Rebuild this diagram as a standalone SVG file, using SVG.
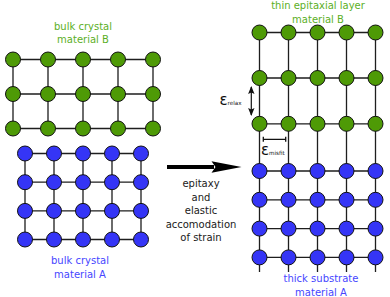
<svg xmlns="http://www.w3.org/2000/svg" width="390" height="297" viewBox="0 0 390 297">
<style>
.ln{stroke:#1e1e1e;stroke-width:1.3;fill:none}
.g{fill:#4e9a06;stroke:#111;stroke-width:1}
.b{fill:#3535f6;stroke:#111;stroke-width:1}
text{font-family:"DejaVu Sans","Liberation Sans",sans-serif;font-size:10px;text-anchor:middle}
.tg{fill:#5caf1f}
.tb{fill:#4646ff}
.tk{fill:#1a1a1a}
.eps{font-size:15px;text-anchor:start;fill:#111}
.sub{font-size:5.6px;text-anchor:start;fill:#111}
</style>
<defs>
<marker id="sm" viewBox="0 0 8 8" refX="7" refY="4" markerWidth="8" markerHeight="8" markerUnits="userSpaceOnUse" orient="auto-start-reverse">
<path d="M0,0.8 L8,4 L0,7.2 L1.5,4 Z" fill="#111"/>
</marker>
</defs>

<!-- bulk crystal B -->
<g id="bulkB">
<path class="ln" d="M13,59.5H153M13,94H153M13,128.5H153M13,59.5V128.5M48,59.5V128.5M83,59.5V128.5M118,59.5V128.5M153,59.5V128.5"/>
<g>
<circle class="g" cx="13" cy="59.5" r="7.5"/><circle class="g" cx="48" cy="59.5" r="7.5"/><circle class="g" cx="83" cy="59.5" r="7.5"/><circle class="g" cx="118" cy="59.5" r="7.5"/><circle class="g" cx="153" cy="59.5" r="7.5"/>
<circle class="g" cx="13" cy="94" r="7.5"/><circle class="g" cx="48" cy="94" r="7.5"/><circle class="g" cx="83" cy="94" r="7.5"/><circle class="g" cx="118" cy="94" r="7.5"/><circle class="g" cx="153" cy="94" r="7.5"/>
<circle class="g" cx="13" cy="128.5" r="7.5"/><circle class="g" cx="48" cy="128.5" r="7.5"/><circle class="g" cx="83" cy="128.5" r="7.5"/><circle class="g" cx="118" cy="128.5" r="7.5"/><circle class="g" cx="153" cy="128.5" r="7.5"/>
</g>
<text class="tg" x="83" y="29.5">bulk crystal</text>
<text class="tg" x="83" y="43.2">material B</text>
</g>

<!-- bulk crystal A -->
<g id="bulkA">
<path class="ln" d="M25,153.5H141M25,182.2H141M25,210.9H141M25,239.5H141M25,153.5V239.5M54,153.5V239.5M83,153.5V239.5M112,153.5V239.5M141,153.5V239.5"/>
<g>
<circle class="b" cx="25" cy="153.5" r="7.5"/><circle class="b" cx="54" cy="153.5" r="7.5"/><circle class="b" cx="83" cy="153.5" r="7.5"/><circle class="b" cx="112" cy="153.5" r="7.5"/><circle class="b" cx="141" cy="153.5" r="7.5"/>
<circle class="b" cx="25" cy="182.2" r="7.5"/><circle class="b" cx="54" cy="182.2" r="7.5"/><circle class="b" cx="83" cy="182.2" r="7.5"/><circle class="b" cx="112" cy="182.2" r="7.5"/><circle class="b" cx="141" cy="182.2" r="7.5"/>
<circle class="b" cx="25" cy="210.9" r="7.5"/><circle class="b" cx="54" cy="210.9" r="7.5"/><circle class="b" cx="83" cy="210.9" r="7.5"/><circle class="b" cx="112" cy="210.9" r="7.5"/><circle class="b" cx="141" cy="210.9" r="7.5"/>
<circle class="b" cx="25" cy="239.5" r="7.5"/><circle class="b" cx="54" cy="239.5" r="7.5"/><circle class="b" cx="83" cy="239.5" r="7.5"/><circle class="b" cx="112" cy="239.5" r="7.5"/><circle class="b" cx="141" cy="239.5" r="7.5"/>
</g>
<text class="tb" x="80" y="264">bulk crystal</text>
<text class="tb" x="80" y="277.5">material A</text>
</g>

<!-- epitaxial structure -->
<g id="layerB">
<path class="ln" d="M259.5,32.5H375.5M259.5,78H375.5M259.5,123.8H375.5M259.5,32.5V272M288.5,32.5V272M317.5,32.5V272M346.5,32.5V272M375.5,32.5V272"/>
<g>
<circle class="g" cx="259.5" cy="32.5" r="7.5"/><circle class="g" cx="288.5" cy="32.5" r="7.5"/><circle class="g" cx="317.5" cy="32.5" r="7.5"/><circle class="g" cx="346.5" cy="32.5" r="7.5"/><circle class="g" cx="375.5" cy="32.5" r="7.5"/>
<circle class="g" cx="259.5" cy="78" r="7.5"/><circle class="g" cx="288.5" cy="78" r="7.5"/><circle class="g" cx="317.5" cy="78" r="7.5"/><circle class="g" cx="346.5" cy="78" r="7.5"/><circle class="g" cx="375.5" cy="78" r="7.5"/>
<circle class="g" cx="259.5" cy="123.8" r="7.5"/><circle class="g" cx="288.5" cy="123.8" r="7.5"/><circle class="g" cx="317.5" cy="123.8" r="7.5"/><circle class="g" cx="346.5" cy="123.8" r="7.5"/><circle class="g" cx="375.5" cy="123.8" r="7.5"/>
</g>
<text class="tg" x="318" y="9">thin epitaxial layer</text>
<text class="tg" x="318" y="22.5">material B</text>
</g>

<g id="substrateA">
<path class="ln" d="M259.5,171H375.5M259.5,199.8H375.5M259.5,228.6H375.5M259.5,257.4H375.5"/>
<g>
<circle class="b" cx="259.5" cy="171" r="7.5"/><circle class="b" cx="288.5" cy="171" r="7.5"/><circle class="b" cx="317.5" cy="171" r="7.5"/><circle class="b" cx="346.5" cy="171" r="7.5"/><circle class="b" cx="375.5" cy="171" r="7.5"/>
<circle class="b" cx="259.5" cy="199.8" r="7.5"/><circle class="b" cx="288.5" cy="199.8" r="7.5"/><circle class="b" cx="317.5" cy="199.8" r="7.5"/><circle class="b" cx="346.5" cy="199.8" r="7.5"/><circle class="b" cx="375.5" cy="199.8" r="7.5"/>
<circle class="b" cx="259.5" cy="228.6" r="7.5"/><circle class="b" cx="288.5" cy="228.6" r="7.5"/><circle class="b" cx="317.5" cy="228.6" r="7.5"/><circle class="b" cx="346.5" cy="228.6" r="7.5"/><circle class="b" cx="375.5" cy="228.6" r="7.5"/>
<circle class="b" cx="259.5" cy="257.4" r="7.5"/><circle class="b" cx="288.5" cy="257.4" r="7.5"/><circle class="b" cx="317.5" cy="257.4" r="7.5"/><circle class="b" cx="346.5" cy="257.4" r="7.5"/><circle class="b" cx="375.5" cy="257.4" r="7.5"/>
</g>
<text class="tb" x="321" y="282">thick substrate</text>
<text class="tb" x="321" y="295.5">material A</text>
</g>

<!-- strain markers -->
<g id="relax">
<line x1="251.3" y1="87" x2="251.3" y2="115" stroke="#111" stroke-width="1.2" marker-start="url(#sm)" marker-end="url(#sm)"/>
<text class="eps" x="219.5" y="104.5">ε<tspan class="sub" dy="0.5">relax</tspan></text>
</g>
<g id="misfit">
<path d="M263.3,139.3H285.7M263.3,136.8V141.8M285.7,136.8V141.8" stroke="#111" stroke-width="1.3" fill="none"/>
<text class="eps" x="261" y="154.5">ε<tspan class="sub" dy="0.3">misfit</tspan></text>
</g>

<g id="connectors">
<path d="M167,167H214" stroke="#000" stroke-width="4"/>
<path d="M241.5,167 L211.5,161.3 L215.5,167 L211.5,172.7 Z" fill="#000"/>
</g>

<g id="label">
<text class="tk" x="201" y="187">epitaxy</text>
<text class="tk" x="201" y="200.5">and</text>
<text class="tk" x="201" y="214">elastic</text>
<text class="tk" x="201" y="227.5">accomodation</text>
<text class="tk" x="201" y="241">of strain</text>
</g>
</svg>
